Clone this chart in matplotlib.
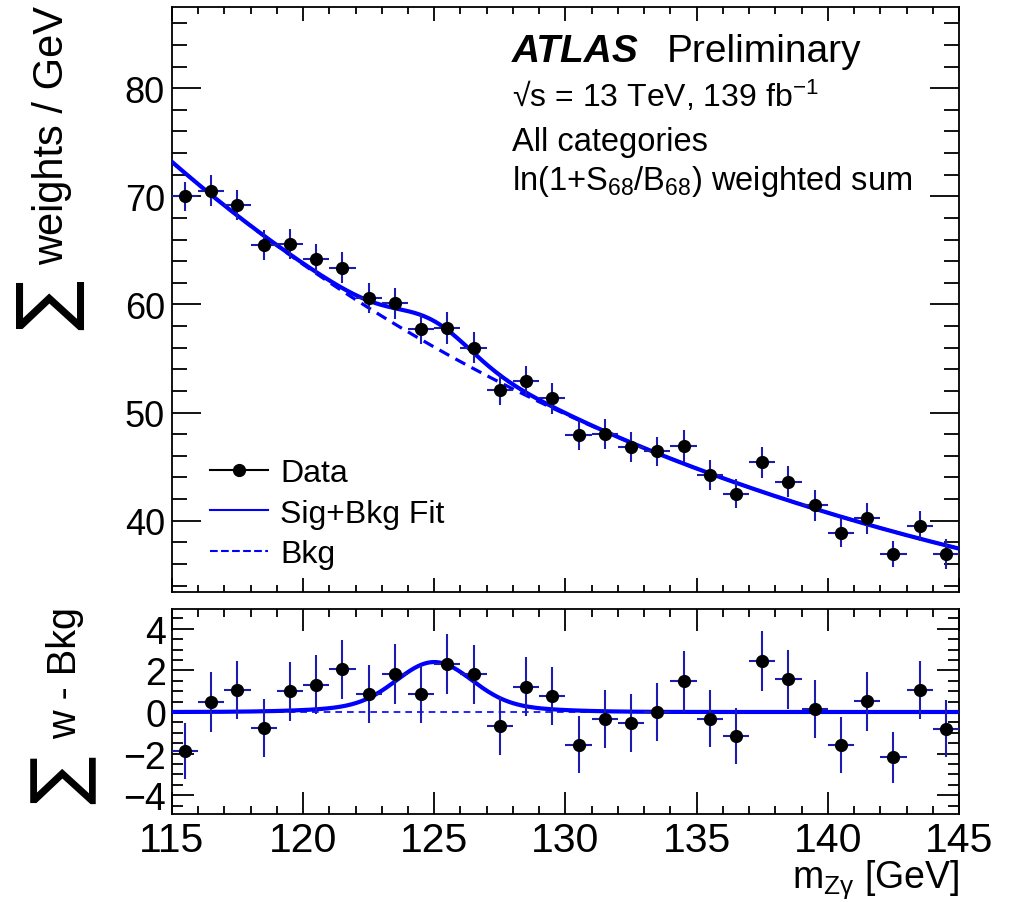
import numpy as np
import matplotlib
matplotlib.use("Agg")
from matplotlib import pyplot as plt
from matplotlib.lines import Line2D
from matplotlib.ticker import MultipleLocator

plt.rcParams['font.family'] = ['Liberation Sans', 'DejaVu Sans']
plt.rcParams['mathtext.fontset'] = 'custom'
plt.rcParams['mathtext.rm'] = 'Liberation Sans'
plt.rcParams['mathtext.it'] = 'Liberation Sans:italic'
plt.rcParams['mathtext.bf'] = 'Liberation Sans:bold'

# bin centres of m_Zgamma [GeV]
mass = [115.5, 116.5, 117.5, 118.5, 119.5, 120.5, 121.5, 122.5, 123.5, 124.5,
        125.5, 126.5, 127.5, 128.5, 129.5, 130.5, 131.5, 132.5, 133.5, 134.5,
        135.5, 136.5, 137.5, 138.5, 139.5, 140.5, 141.5, 142.5, 143.5, 144.5]
# sum of weights per GeV
weights = [70.0, 70.5, 69.2, 65.5, 65.6, 64.2, 63.4, 60.6, 60.1, 57.7,
           57.8, 56.0, 52.1, 52.9, 51.3, 47.9, 48.0, 46.8, 46.4, 46.9,
           44.2, 42.5, 45.4, 43.6, 41.4, 38.9, 40.2, 36.9, 39.5, 36.9]
# sum of weights minus background
residuals = [-1.89, 0.48, 1.07, -0.77, 0.99, 1.31, 2.05, 0.88, 1.84, 0.88,
             2.31, 1.81, -0.67, 1.22, 0.78, -1.57, -0.32, -0.53, 0.0, 1.47,
             -0.32, -1.17, 2.45, 1.57, 0.16, -1.57, 0.51, -2.18, 1.07, -0.80]
errors = [1.35, 1.42, 1.40, 1.40, 1.40, 1.42, 1.42, 1.40, 1.45, 1.40,
          1.45, 1.42, 1.40, 1.40, 1.40, 1.38, 1.40, 1.40, 1.38, 1.45,
          1.38, 1.35, 1.45, 1.42, 1.40, 1.35, 1.40, 1.23, 1.40, 1.38]

# fit parameters
bkg_par = [3.909, -0.3355, 0.0485]   # log-polynomial in t = (m - 130) / 15
sig_peak = 2.4
sig_mass = 125.0
sig_core = 1.4
sig_tail = 3.0
tail_frac = 0.15

blue = '#0000ff'
bar_col = '#1c1cb0'


def background(m):
    t = (m - 130.0) / 15.0
    return np.exp(bkg_par[0] + bkg_par[1] * t + bkg_par[2] * t ** 2)


def signal(m):
    core = np.exp(-0.5 * ((m - sig_mass) / sig_core) ** 2)
    tail = np.exp(-0.5 * ((m - sig_mass) / sig_tail) ** 2)
    return sig_peak * ((1 - tail_frac) * core + tail_frac * tail)


m = np.linspace(115, 145, 601)

fig = plt.figure(figsize=(10.11, 9.03), dpi=100)
ax1 = fig.add_axes([0.170, 0.3433, 0.7786, 0.6478])
ax2 = fig.add_axes([0.170, 0.0975, 0.7786, 0.2270])

# top panel
ax1.plot(m, background(m), color=blue, lw=2.3, dashes=(3.5, 2.2), zorder=2)
ax1.plot(m, background(m) + signal(m), color=blue, lw=3, zorder=3)
ax1.errorbar(mass, weights, yerr=errors, xerr=0.5, fmt='none', ecolor=bar_col,
             elinewidth=1.5, capsize=0, zorder=4)
ax1.plot(mass, weights, 'o', color='black', ms=8.5, zorder=5)
ax1.set_xlim(115, 145)
ax1.set_ylim(33.4, 87.5)

# bottom panel
ax2.plot(m, background(m) - background(m), color=blue, lw=1.2, dashes=(4, 3), zorder=2)
ax2.plot(m, signal(m), color=blue, lw=3, zorder=3)
ax2.errorbar(mass, residuals, yerr=errors, xerr=0.5, fmt='none', ecolor=bar_col,
             elinewidth=1.5, capsize=0, zorder=4)
ax2.plot(mass, residuals, 'o', color='black', ms=8.5, zorder=5)
ax2.set_xlim(115, 145)
ax2.set_ylim(-4.9, 4.95)

for ax in (ax1, ax2):
    ax.xaxis.set_major_locator(MultipleLocator(5))
    ax.xaxis.set_minor_locator(MultipleLocator(1))
    ax.tick_params(which='both', direction='in', top=True, right=True, width=1.3)
    for s in ax.spines.values():
        s.set_linewidth(1.3)

ax1.yaxis.set_major_locator(MultipleLocator(10))
ax1.yaxis.set_minor_locator(MultipleLocator(2))
ax1.tick_params(axis='x', which='major', length=10, labelbottom=False)
ax1.tick_params(axis='x', which='minor', length=5)
ax1.tick_params(axis='y', which='major', length=21, labelsize=26, pad=5)
ax1.tick_params(axis='y', which='minor', length=11)

ax2.yaxis.set_major_locator(MultipleLocator(2))
ax2.yaxis.set_minor_locator(MultipleLocator(0.5))
ax2.tick_params(axis='x', which='major', length=16, labelsize=29.5, pad=5)
ax2.tick_params(axis='x', which='minor', length=6)
ax2.tick_params(axis='y', which='major', length=16, labelsize=27, pad=4)
ax2.tick_params(axis='y', which='minor', length=8)

ax2.set_xlabel('m$_{\\mathrm{Z\u03b3}}$ [GeV]', fontsize=27, loc='right', labelpad=-1)

# axis titles with a large sum sign
fig.text(52 / 1011, 1 - 6 / 903, 'weights / GeV', rotation=90, ha='center', va='top', fontsize=30)
fig.text(50 / 1011, 1 - 305 / 903, '\u2211', rotation=90, ha='center', va='center',
         fontsize=54, family=['DejaVu Sans'])
fig.text(65 / 1011, 1 - 607 / 903, 'w - Bkg', rotation=90, ha='center', va='top', fontsize=28.5)
fig.text(63 / 1011, 1 - 780 / 903, '\u2211', rotation=90, ha='center', va='center',
         fontsize=52, family=['DejaVu Sans'])

# ATLAS label
fig.text(512 / 1011, 1 - 62 / 903, 'ATLAS', fontsize=28, fontweight='bold', style='italic',
         va='baseline')
fig.text(667 / 1011, 1 - 62 / 903, 'Preliminary', fontsize=28, va='baseline')
fig.text(512 / 1011, 1 - 107 / 903, '\u221as = 13 TeV, 139 fb$^{-1}$', fontsize=23, va='baseline')
fig.text(512 / 1011, 1 - 151 / 903, 'All categories', fontsize=23.5, va='baseline')
fig.text(512 / 1011, 1 - 190 / 903, 'ln(1+S$_{68}$/B$_{68}$) weighted sum', fontsize=23.5,
         va='baseline')

handles = [Line2D([], [], color='black', marker='o', ms=8.5, lw=1.5),
           Line2D([], [], color=blue, lw=1.5),
           Line2D([], [], color=blue, lw=1.5, ls='--')]
ax1.legend(handles, ['Data', 'Sig+Bkg Fit', 'Bkg'], loc='upper left',
           bbox_to_anchor=(210 / 1011, 1 - 459 / 903), bbox_transform=fig.transFigure,
           frameon=False, fontsize=23, handlelength=1.8, handletextpad=0.4,
           labelspacing=0.33, borderpad=0, borderaxespad=0)

fig.savefig('out.png', dpi=100)
